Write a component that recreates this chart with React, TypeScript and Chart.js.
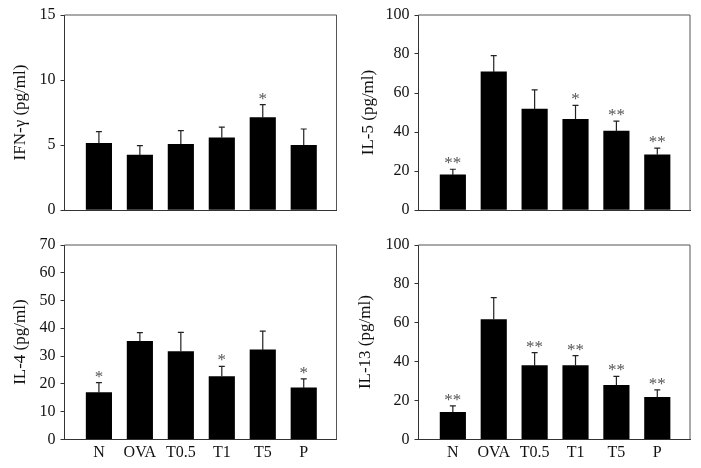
import React, { useEffect, useRef } from 'react';
import { Chart, registerables } from 'chart.js';

Chart.register(...registerables);

const categories = ['N', 'OVA', 'T0.5', 'T1', 'T5', 'P'];

const ifnMeans = [5.13, 4.23, 5.05, 5.56, 7.1, 4.97];
const ifnErrors = [0.9, 0.72, 1.05, 0.82, 1.0, 1.26];
const ifnSig = ['', '', '', '', '*', ''];

const il5Means = [18.0, 70.8, 51.8, 46.5, 40.5, 28.3];
const il5Errors = [2.9, 8.4, 9.8, 7.2, 5.1, 3.4];
const il5Sig = ['**', '', '', '*', '**', '**'];

const il4Means = [16.8, 35.3, 31.6, 22.6, 32.2, 18.5];
const il4Errors = [3.6, 3.1, 6.9, 3.7, 6.8, 3.3];
const il4Sig = ['*', '', '', '*', '', '*'];

const il13Means = [13.9, 61.6, 37.9, 37.9, 27.8, 21.6];
const il13Errors = [3.3, 11.3, 6.7, 5.2, 4.6, 3.8];
const il13Sig = ['**', '', '**', '**', '**', '**'];

const FONT = '"Liberation Serif", "Times New Roman", serif';
const AXIS = '#333';
const FRAME = '#555';
const X_MIN = -0.84;
const X_MAX = 5.8;

type PanelProps = {
  means: number[];
  errors: number[];
  sig: string[];
  title: string;
  max: number;
  step: number;
  showLabels: boolean;
  titlePad: number;
  rightPad: number;
  width: number;
  height: number;
  xAxisHeight: number;
  left: number;
  top: number;
};

function Panel(p: PanelProps) {
  const ref = useRef<HTMLCanvasElement | null>(null);
  useEffect(() => {
    if (!ref.current) return;
    const errorPlugin = {
      id: 'errbars',
      afterDatasetsDraw(chart: any) {
        const ctx = chart.ctx;
        const meta = chart.getDatasetMeta(0);
        const ys = chart.scales.y;
        ctx.save();
        meta.data.forEach((bar: any, i: number) => {
          const top = ys.getPixelForValue(p.means[i] + p.errors[i]);
          const x = bar.x;
          ctx.strokeStyle = '#222';
          ctx.lineWidth = 1.2;
          ctx.beginPath();
          ctx.moveTo(x, bar.y);
          ctx.lineTo(x, top);
          ctx.moveTo(x - 3, top);
          ctx.lineTo(x + 3, top);
          ctx.stroke();
          if (p.sig[i]) {
            ctx.fillStyle = '#555';
            ctx.font = `17px ${FONT}`;
            ctx.textAlign = 'center';
            ctx.textBaseline = 'alphabetic';
            ctx.fillText(p.sig[i], x, top - 1);
          }
        });
        ctx.restore();
      },
    };
    const framePlugin = {
      id: 'frame',
      afterDraw(chart: any) {
        const { ctx, chartArea } = chart;
        ctx.save();
        ctx.strokeStyle = FRAME;
        ctx.lineWidth = 1;
        ctx.beginPath();
        ctx.moveTo(chartArea.left, chartArea.top);
        ctx.lineTo(chartArea.right, chartArea.top);
        ctx.lineTo(chartArea.right, chartArea.bottom);
        ctx.stroke();
        ctx.restore();
      },
    };
    const chart = new Chart(ref.current, {
      type: 'bar',
      data: {
        datasets: [
          {
            data: categories.map((_, i) => ({ x: i, y: p.means[i] })),
            backgroundColor: '#000',
            borderWidth: 0,
            barThickness: 25.5,
          } as any,
        ],
      },
      options: {
        responsive: false,
        animation: false,
        layout: { padding: { top: 15, right: p.rightPad, left: 0, bottom: 0 } },
        plugins: { legend: { display: false }, tooltip: { enabled: false } },
        scales: {
          x: {
            type: 'linear',
            min: X_MIN,
            max: X_MAX,
            offset: false,
            grid: { display: false, offset: false, drawTicks: false, tickLength: 0 },
            border: { display: true, color: AXIS, width: 1 },
            afterBuildTicks: (s: any) => {
              s.ticks = categories.map((_, i) => ({ value: i }));
            },
            ticks: {
              display: p.showLabels,
              autoSkip: false,
              maxRotation: 0,
              padding: 4,
              color: '#111',
              font: { family: FONT, size: 16 },
              callback: (v: any) => categories[v] ?? '',
            },
            afterFit: (s: any) => {
              s.height = p.xAxisHeight;
            },
          } as any,
          y: {
            min: 0,
            max: p.max,
            ticks: {
              stepSize: p.step,
              padding: 5,
              color: '#111',
              font: { family: FONT, size: 16 },
            },
            grid: { drawOnChartArea: false, tickLength: 4, color: AXIS },
            border: { color: AXIS, width: 1 },
            title: {
              display: true,
              text: p.title,
              color: '#111',
              font: { family: FONT, size: 17 },
              padding: { top: p.titlePad, bottom: 0 },
            },
            afterFit: (s: any) => {
              s.width = 64.5;
            },
          } as any,
        },
      },
      plugins: [errorPlugin, framePlugin],
    });
    return () => chart.destroy();
  }, []);
  return (
    <canvas
      ref={ref}
      width={p.width}
      height={p.height}
      style={{ position: 'absolute', left: p.left, top: p.top, width: p.width, height: p.height }}
    />
  );
}

export default function App() {
  return (
    <div style={{ position: 'absolute', left: 0, top: 0, width: 701, height: 468, background: '#fff' }}>
      <Panel means={ifnMeans} errors={ifnErrors} sig={ifnSig} title="IFN-γ (pg/ml)" max={15} step={5}
        showLabels={false} titlePad={10.4} rightPad={13.5} width={350} height={230} xAxisHeight={20} left={0} top={0} />
      <Panel means={il5Means} errors={il5Errors} sig={il5Sig} title="IL-5 (pg/ml)" max={100} step={20}
        showLabels={false} titlePad={4.7} rightPad={11} width={347} height={230} xAxisHeight={20} left={354} top={0} />
      <Panel means={il4Means} errors={il4Errors} sig={il4Sig} title="IL-4 (pg/ml)" max={70} step={10}
        showLabels={true} titlePad={10.4} rightPad={13.5} width={350} height={238} xAxisHeight={28.7} left={0} top={230} />
      <Panel means={il13Means} errors={il13Errors} sig={il13Sig} title="IL-13 (pg/ml)" max={100} step={20}
        showLabels={true} titlePad={1.4} rightPad={11} width={347} height={238} xAxisHeight={28.7} left={354} top={230} />
    </div>
  );
}
